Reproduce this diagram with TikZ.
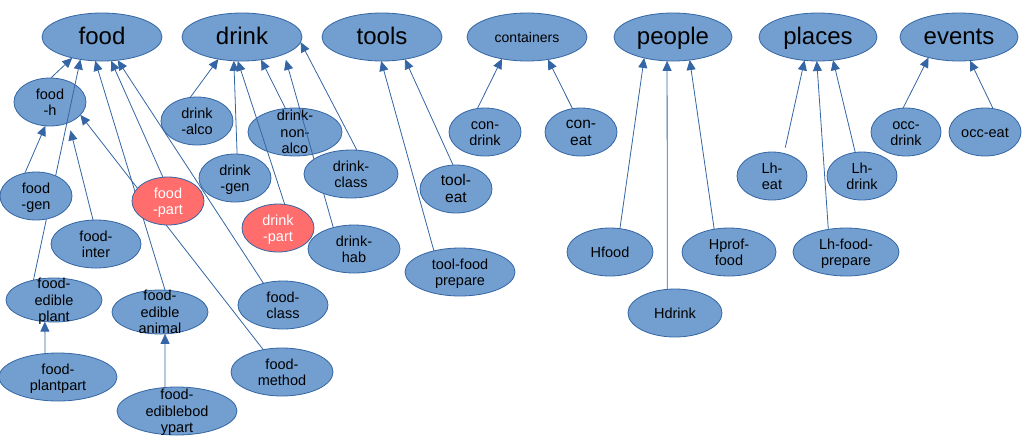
\documentclass[tikz,border=0pt]{standalone}
\usepackage{fontspec}
\setmainfont{Liberation Sans}
\usetikzlibrary{shapes.geometric,arrows.meta}
\pgfdeclarelayer{back}
\pgfdeclarelayer{edges}
\pgfsetlayers{back,edges,main}
\definecolor{nfill}{HTML}{729FCF}
\definecolor{nline}{HTML}{3465A4}
\definecolor{rfill}{HTML}{FF6D6D}
\newcommand\zt[1]{\vbox to 0pt{\vss\kern4pt\hbox to 0pt{\hss\begin{tabular}{@{}c@{}}#1\end{tabular}\hss}\vss}}
\tikzset{
  ell/.style={ellipse, draw=nline, fill=nfill, line width=0.8pt, inner sep=0pt, outer sep=0pt,
    font=\fontsize{14.5}{16.5}\selectfont},
  sm/.style={ell, minimum width=72pt, minimum height=48pt},
  topn/.style={ell, minimum width=120pt, minimum height=48pt, font=\fontsize{24}{28}\selectfont},
  rednode/.style={fill=rfill, text=white},
  con/.style={draw=nline, line width=0.8pt, -{Triangle[length=10pt,width=9pt]}},
}
\begin{document}
\begin{tikzpicture}[x=1pt,y=-1pt]
\path[use as bounding box] (0,0) rectangle (1032,440);
% top level
\node[topn] (food) at (102,37) {\zt{food}};
\node[topn] (drink) at (242,37) {\zt{drink}};
\node[topn] (tools) at (382,37) {\zt{tools}};
\node[topn, font=\fontsize{14}{16}\selectfont] (cont) at (527,37) {\zt{containers}};
\node[topn, minimum width=118pt] (people) at (673,37) {\zt{people}};
\node[topn, minimum width=118pt] (places) at (818,37) {\zt{places}};
\node[topn, minimum width=118pt] (events) at (959,37) {\zt{events}};
% nodes lying under connectors
\begin{pgfonlayer}{back}
\node[sm] (fh) at (50,102) {\zt{food\\-h}};
\node[ell, minimum width=94pt, minimum height=48pt] (dnon) at (295,132) {\zt{drink-\\non-\\alco}};
\end{pgfonlayer}
% food
\node[sm] (fgen) at (36,196) {\zt{food\\-gen}};
\node[sm, rednode] (fpart) at (168,201) {\zt{food\\-part}};
\node[ell, minimum width=90pt, minimum height=48pt] (finter) at (96,244) {\zt{food-\\inter}};
\node[ell, minimum width=96pt, minimum height=44pt] (fep) at (54,300) {\zt{food-\\edible\\plant}};
\node[ell, minimum width=96pt, minimum height=44pt] (fea) at (160,312) {\zt{food-\\edible\\animal}};
\node[ell, minimum width=118pt, minimum height=48pt] (fpp) at (58,377) {\zt{food-\\plantpart}};
\node[ell, minimum width=120pt, minimum height=48pt] (febp) at (177,411) {\zt{food-\\ediblebod\\ypart}};
\node[ell, minimum width=90pt, minimum height=48pt] (fclass) at (283,305) {\zt{food-\\class}};
\node[ell, minimum width=102pt, minimum height=48pt] (fmethod) at (282,372) {\zt{food-\\method}};
% drink
\node[sm] (dalco) at (197,121) {\zt{drink\\-alco}};
\node[sm] (dgen) at (235,178) {\zt{drink\\-gen}};
\node[ell, minimum width=94pt, minimum height=48pt] (dclass) at (351,174) {\zt{drink-\\class}};
\node[sm, rednode] (dpart) at (278,228) {\zt{drink\\-part}};
\node[ell, minimum width=92pt, minimum height=48pt] (dhab) at (354,249) {\zt{drink-\\hab}};
% tools, containers
\node[sm, font=\fontsize{15.5}{17}\selectfont] (teat) at (456,189) {\zt{tool-\\eat}};
\node[ell, minimum width=110pt, minimum height=48pt] (tfp) at (460,272) {\zt{tool-food\\prepare}};
\node[sm] (cdrink) at (485,132) {\zt{con-\\drink}};
\node[sm, font=\fontsize{15.5}{17}\selectfont] (ceat) at (581,132) {\zt{con-\\eat}};
% people
\node[ell, minimum width=86pt, minimum height=48pt] (hfood) at (610,252) {\zt{Hfood}};
\node[ell, minimum width=94pt, minimum height=48pt] (hdrink) at (675,313) {\zt{Hdrink}};
\node[ell, minimum width=94pt, minimum height=48pt] (hprof) at (729,252) {\zt{Hprof-\\food}};
% places
\node[ell, minimum width=70pt, minimum height=48pt] (lheat) at (772,176) {\zt{Lh-\\eat}};
\node[ell, minimum width=70pt, minimum height=48pt] (lhdrink) at (862,176) {\zt{Lh-\\drink}};
\node[ell, minimum width=106pt, minimum height=48pt] (lhfp) at (846,252) {\zt{Lh-food-\\prepare}};
% events
\node[ell, minimum width=70pt, minimum height=48pt] (occd) at (906,132) {\zt{occ-\\drink}};
\node[sm] (occe) at (985,132) {\zt{occ-eat}};
% connectors
\begin{pgfonlayer}{edges}
\draw[con] (fh.88) -- (food.215);
\draw[con] (fep.136) -- (food.226);
\draw[con] (fgen.116) -- (fh.259);
\draw[con, shorten >=8pt] (finter.97) -- (fh.312);
\draw[con] (fmethod.130) -- (fh.337);
\draw[con] (fea.77) -- (food.254);
\draw[con] (fpart.102) -- (food.291);
\draw[con] (fclass.132) -- (food.304);
\draw[con] (fpp.119) -- (fep.247.4);
\draw[con] (febp.117) -- (fea.283);
\draw[con] (dalco.106) -- (drink.223);
\draw[con] (dgen.85) -- (drink.251.6);
\draw[con] (dpart.74) -- (drink.260.5);
\draw[con] (dnon.112) -- (drink.310);
\draw[con, shorten >=6pt] (dhab.134) -- (drink.338);
\draw[con] (dclass.76) -- (drink.355);
\draw[con] (tfp.141) -- (tools.268);
\draw[con] (teat.97) -- (tools.316);
\draw[con] (cdrink.108) -- (cont.221);
\draw[con] (ceat.110.6) -- (cont.313.7);
\draw[con] (hfood.67.4) -- (people.216.6);
\draw[con] (hdrink.108.7) -- (people.256);
\draw[con] (hprof.123.7) -- (people.306.5);
\draw[con, shorten <=6pt] (lheat.62.9) -- (places.240.5);
\draw[con] (lhfp.128.4) -- (places.267.5);
\draw[con] (lhdrink.106.3) -- (places.303);
\draw[con] (occd.97) -- (events.214);
\draw[con] (occe.71.6) -- (events.295.6);
\end{pgfonlayer}
\end{tikzpicture}
\end{document}
